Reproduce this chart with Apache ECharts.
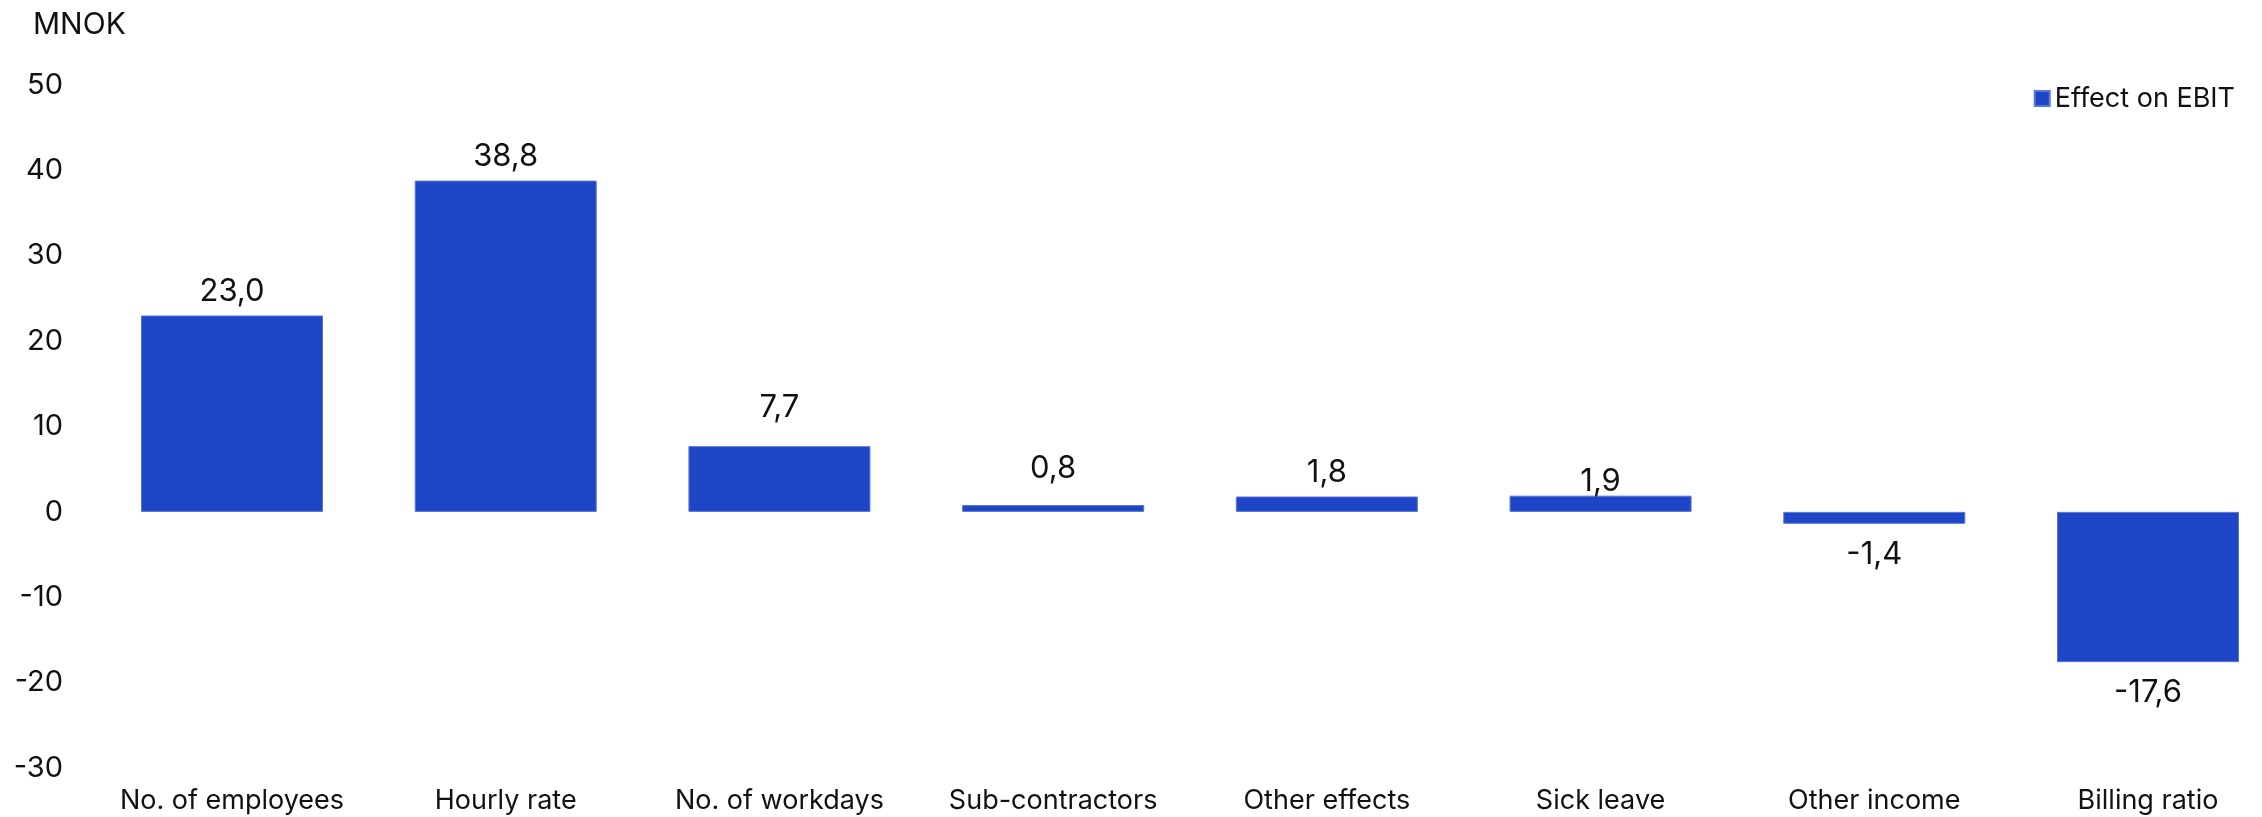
<!DOCTYPE html>
<html>
<head>
<meta charset="utf-8">
<script src="https://cdn.jsdelivr.net/npm/echarts@6/dist/echarts.min.js"></script>
<style>
  html, body { margin: 0; padding: 0; background: #ffffff; }
  #chart { width: 2262px; height: 817px; }
</style>
</head>
<body>
<div id="chart"></div>
<script>
// EBIT bridge drivers (MNOK)
const categories = [
  'No. of employees', 'Hourly rate', 'No. of workdays', 'Sub-contractors',
  'Other effects', 'Sick leave', 'Other income', 'Billing ratio'
];
const effectOnEbit = [23.0, 38.8, 7.7, 0.8, 1.8, 1.9, -1.4, -17.6];
const seriesName = 'Effect on EBIT';
const unitLabel = 'MNOK';
const yMin = -30, yMax = 50, yStep = 10;

const FONT = 'Inter, "Noto Sans", sans-serif';
const TEXT = '#111111';
const BAR = '#1F45C7';

const fmt = v => v.toFixed(1).replace('.', ',');

// Hand-placed value labels: vertical nudge (px) per bar, layout only.
const LABEL_NUDGE = { 'No. of workdays': -15, 'Sub-contractors': -13, 'Sick leave': 10 };

const chart = echarts.init(document.getElementById('chart'), null, { renderer: 'canvas' });

// Category ticks sit on the first and last bar centres so the outer bars can
// reach toward the page edges.
chart.setOption({
  animation: false,
  backgroundColor: '#ffffff',
  textStyle: { fontFamily: FONT, color: TEXT },
  grid: { left: 232, right: 114, top: 85, bottom: 49, containLabel: false },
  title: {
    text: unitLabel,
    left: 28, top: 5,
    textStyle: { fontFamily: FONT, fontSize: 30, fontWeight: 'normal', color: TEXT }
  },
  legend: {
    data: [seriesName],
    right: 22, top: 80,
    icon: 'rect', itemWidth: 15, itemHeight: 15, itemGap: 6,
    textStyle: { fontFamily: FONT, fontSize: 27, color: TEXT }
  },
  xAxis: {
    type: 'category',
    data: categories,
    boundaryGap: false,
    axisLine: { show: false },
    axisTick: { show: false },
    splitLine: { show: false },
    axisLabel: { fontFamily: FONT, fontSize: 27, color: TEXT, margin: 19, interval: 0 }
  },
  yAxis: {
    type: 'value',
    min: yMin, max: yMax, interval: yStep,
    axisLine: { show: false },
    axisTick: { show: false },
    splitLine: { show: false },
    axisLabel: { fontFamily: FONT, fontSize: 29, color: TEXT, margin: 169 }
  },
  series: [{
    name: seriesName,
    type: 'bar',
    clip: false,
    data: effectOnEbit.map((v, i) => ({
      value: v,
      label: Object.assign(
        v < 0 ? { position: 'bottom', distance: 15 } : { position: 'top', distance: 8 },
        { offset: [0, LABEL_NUDGE[categories[i]] || 0] }
      )
    })),
    barWidth: 182,
    itemStyle: { color: BAR, borderColor: '#5576DA', borderWidth: 1 },
    label: {
      show: true,
      fontFamily: FONT, fontSize: 31, color: TEXT,
      formatter: p => fmt(p.value)
    }
  }]
});
</script>
</body>
</html>
